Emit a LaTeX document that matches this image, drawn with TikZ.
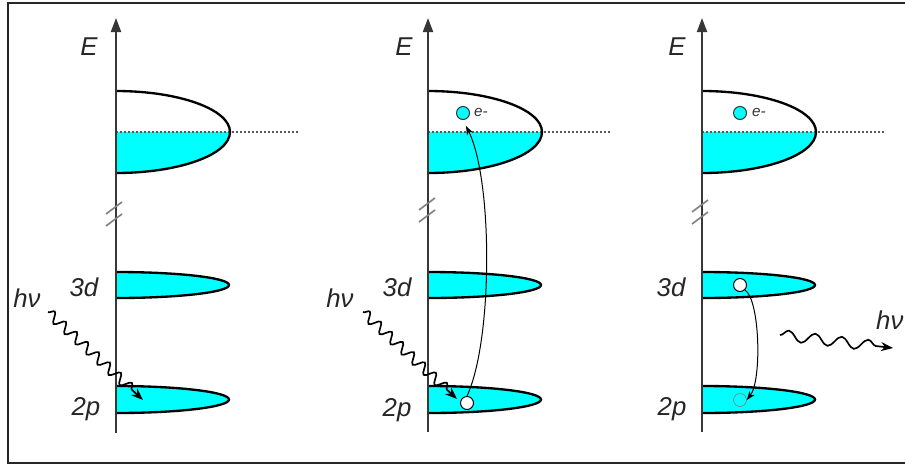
\documentclass[tikz,border=0pt]{standalone}
\usepackage{fontspec}
\setmainfont{Liberation Sans}
\usetikzlibrary{arrows.meta,decorations.pathmorphing}
\definecolor{bandcyan}{RGB}{0,255,255}
\definecolor{axisgray}{RGB}{55,55,55}
\newcommand\upperband[1]{%
  \fill[bandcyan] (#1,132) -- ++(114,0) arc[start angle=0,end angle=-90,x radius=3.42cm,y radius=1.23cm] -- cycle;
  \draw[fermi] (#1,132) -- (#1+184,132);
  \draw[bandline] (#1,91) arc[start angle=90,end angle=-90,x radius=3.42cm,y radius=1.23cm];
}
\newcommand\lowerband[3]{% axis x, top y, half height (cm)
  \filldraw[bandline,fill=bandcyan] (#1,#2) arc[start angle=90,end angle=-90,x radius=3.39cm,y radius=#3];
}
\newcommand\breakmarks[2]{% x, y
  \draw[breakmark] (#1-8,#2+6) -- (#1+8,#2-6);
  \draw[breakmark] (#1-8,#2+18) -- (#1+8,#2+6);
}
\begin{document}
\begin{tikzpicture}[x=0.03cm,y=-0.03cm,
  axisline/.style={line width=0.06cm, draw=axisgray, -{Triangle[length=0.42cm,width=0.3cm]}},
  bandline/.style={line width=0.07cm, draw=black},
  fermi/.style={line width=0.06cm, draw=black!65, dash pattern=on 0.05cm off 0.07cm},
  breakmark/.style={line width=0.05cm, draw=gray},
  lbl/.style={font=\fontsize{22}{24}\selectfont\itshape, inner sep=0pt, anchor=base, text=black!85},
  elbl/.style={font=\fontsize{13}{15}\selectfont\itshape, inner sep=0pt, anchor=west, text=black!80},
  electron/.style={circle, draw=black!80, fill=bandcyan, line width=0.03cm, minimum size=0.39cm, inner sep=0pt},
  hole/.style={circle, draw=black, fill=white, line width=0.03cm, minimum size=0.39cm, inner sep=0pt},
  ghost/.style={circle, draw=gray, line width=0.02cm, minimum size=0.39cm, inner sep=0pt},
  photon/.style={line width=0.05cm, decorate, decoration={snake, segment length=0.45cm, amplitude=0.15cm, post length=0.3cm}, -{Stealth[length=0.36cm,width=0.27cm]}},
  photonR/.style={line width=0.05cm, decorate, decoration={snake, segment length=0.8cm, amplitude=0.16cm, post length=0.3cm}, -{Stealth[length=0.36cm,width=0.27cm]}},
  transition/.style={line width=0.03cm, -{Stealth[length=0.27cm,width=0.2cm]}},
  frame/.style={line width=0.075cm, draw=black!85}]
\useasboundingbox (0,0) rectangle (905,467);
\clip (0,0) rectangle (905,467);
\draw[frame] (915,3) -- (8,3) -- (8,463) -- (915,463);

% ---------- left panel ----------
\upperband{116}
\lowerband{116}{272}{0.39cm}
\lowerband{116}{386}{0.405cm}
\coordinate (a1b) at (116,433);
\coordinate (a1t) at (116,18);
\draw[axisline] (a1b) -- (a1t);
\breakmarks{114}{208}
\node[lbl] (E1) at (89,55) {E};
\node[lbl] (d1) at (84,296) {3d};
\node[lbl] (p1) at (86,415) {2p};
\node[lbl] (hv1) at (27,307) {hν};
\coordinate (ph1s) at (48,312);
\coordinate (ph1e) at (143,400);
\draw[photon] (ph1s) -- (ph1e);

% ---------- middle panel ----------
\upperband{428}
\lowerband{428}{272}{0.39cm}
\lowerband{428}{386}{0.405cm}
\coordinate (a2b) at (428,432);
\coordinate (a2t) at (428,18);
\draw[axisline] (a2b) -- (a2t);
\breakmarks{427}{204}
\node[lbl] (E2) at (404,55) {E};
\node[lbl] (d2) at (397,296) {3d};
\node[lbl] (p2) at (397,416) {2p};
\node[lbl] (hv2) at (340,307) {hν};
\node[electron] (em) at (463,113) {};
\node[elbl] (eml) at (474,112) {e-};
\node[hole] (hm) at (467,403) {};
\coordinate (ph2s) at (363,312);
\coordinate (ph2e) at (457,399);
\draw[photon] (ph2s) -- (ph2e);
\draw[transition, shorten >=0.2cm] (hm.north) .. controls (493,340) and (493,180) .. (em.south);

% ---------- right panel ----------
\upperband{702}
\lowerband{702}{272}{0.39cm}
\lowerband{702}{386}{0.405cm}
\coordinate (a3b) at (702,432);
\coordinate (a3t) at (702,18);
\draw[axisline] (a3b) -- (a3t);
\breakmarks{700}{206}
\node[lbl] (E3) at (677,55) {E};
\node[lbl] (d3) at (671,296) {3d};
\node[lbl] (p3) at (672,415) {2p};
\node[lbl, anchor=base west] (hv3) at (876,329) {hν};
\node[electron] (er) at (740,113) {};
\node[elbl] (erl) at (752,112) {e-};
\node[hole] (hr) at (740,285) {};
\node[ghost] (gr) at (740,400) {};
\coordinate (ph3s) at (780,335);
\coordinate (ph3e) at (893,348);
\draw[photonR] (ph3s) -- (ph3e);
\draw[transition] (hr.south east) .. controls (760,300) and (762,380) .. (gr.east);
\end{tikzpicture}
\end{document}
